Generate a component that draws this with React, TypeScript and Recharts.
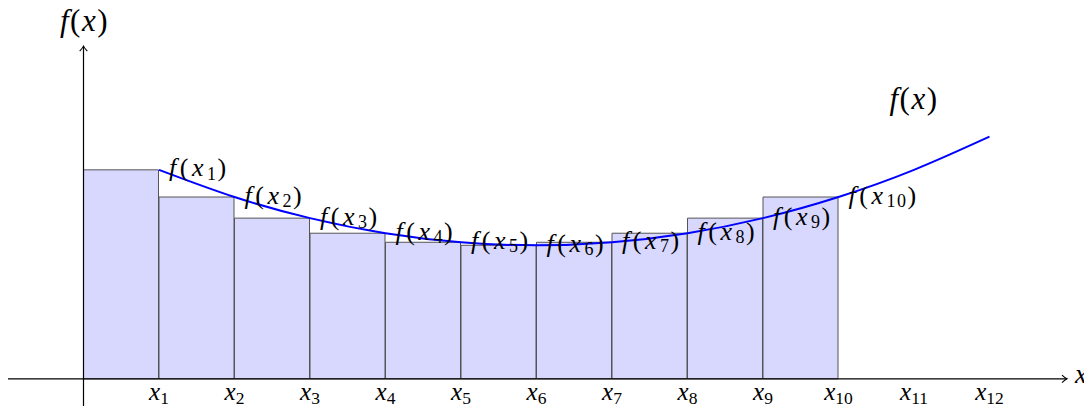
import React from 'react';
import { ComposedChart, Line, Bar, XAxis, YAxis, ReferenceLine, ReferenceDot, LabelList } from 'recharts';

// x positions of the sample points x1..x12 and the curve values
const xPoints = [1, 2, 3, 4, 5, 6, 7, 8, 9, 10, 11, 12];
const fValues = [2.77, 2.41, 2.13, 1.93, 1.81, 1.77, 1.81, 1.93, 2.13, 2.41, 2.77, 3.21];
const tickSubscripts = ['1', '2', '3', '4', '5', '6', '7', '8', '9', '10', '11', '12'];
const pointLabelSubscripts = ['1', '2', '3', '4', '5', '6', '7', '8', '9', '10'];
// rectangles (right-endpoint rule)
const barLeft = [0, 1, 2, 3, 4, 5, 6, 7, 8, 9];
const barRight = [1, 2, 3, 4, 5, 6, 7, 8, 9, 10];
const barHeights = [2.77, 2.41, 2.13, 1.93, 1.81, 1.77, 1.81, 1.93, 2.13, 2.41];
// axis extents and the free curve label
const xAxisRange = [-1, 13];
const yAxisRange = [-0.36, 4.41];
const curveLabelPos = { x: 11, y: 3.68 };

const lineData = xPoints.map((x, i) => ({ x, y: fValues[i], label: pointLabelSubscripts[i] }));
const barData = barLeft.map((l, i) => ({ x: (l + barRight[i]) / 2, h: barHeights[i] }));

const FONT = "'Liberation Serif', 'DejaVu Serif', serif";

const XTick = (props: any) => {
  const { x, y, payload } = props;
  return (
    <text x={x} y={y - 6} textAnchor="middle" fontFamily={FONT} fontSize={25} fill="#000">
      <tspan fontStyle="italic">x</tspan>
      <tspan fontSize={17.5} dy={3.5}>{tickSubscripts[xPoints.indexOf(payload.value)]}</tspan>
    </text>
  );
};

const PointLabel = (props: any) => {
  const { x, y, value } = props;
  if (value === undefined || value === null) return null;
  return (
    <text x={x + 10} y={y + 6.5} fontFamily={FONT} fontSize={26} fill="#000" letterSpacing={3.5}>
      <tspan fontStyle="italic">f</tspan>
      <tspan>(</tspan>
      <tspan fontStyle="italic">x</tspan>
      <tspan fontSize={18} dy={3.5} letterSpacing={1.5}>{value}</tspan>
      <tspan dy={-3.5}>)</tspan>
    </text>
  );
};

const FofX = ({ x, y }: { x: number; y: number }) => (
  <text x={x} y={y} textAnchor="middle" fontFamily={FONT} fontSize={31} fill="#000" letterSpacing={1.5}>
    <tspan fontStyle="italic">f</tspan>
    <tspan>(</tspan>
    <tspan fontStyle="italic">x</tspan>
    <tspan>)</tspan>
  </text>
);

const XAxisLine = (props: any) => {
  const { x1, y1, x2, y2 } = props;
  const tx = x2 + 2;
  const ty = y2;
  return (
    <g>
      <line x1={x1} y1={y1} x2={tx} y2={ty} stroke="#000" strokeWidth={1.2} />
      <path
        d={`M ${tx - 5} ${ty - 3.8} Q ${tx - 1.5} ${ty - 0.6} ${tx} ${ty} Q ${tx - 1.5} ${ty + 0.6} ${tx - 5} ${ty + 3.8}`}
        fill="none"
        stroke="#000"
        strokeWidth={1.1}
      />
      <text x={tx + 8} y={ty + 4} fontFamily={FONT} fontSize={27} fontStyle="italic" fill="#000">x</text>
    </g>
  );
};

const YAxisLine = (props: any) => {
  const { x1, y1, x2, y2 } = props;
  const tx = x2;
  const ty = Math.min(y1, y2);
  const by = Math.max(y1, y2);
  return (
    <g>
      <line x1={x1} y1={by} x2={tx} y2={ty} stroke="#000" strokeWidth={1.2} />
      <path
        d={`M ${tx - 3.8} ${ty + 5} Q ${tx - 0.6} ${ty + 1.5} ${tx} ${ty} Q ${tx + 0.6} ${ty + 1.5} ${tx + 3.8} ${ty + 5}`}
        fill="none"
        stroke="#000"
        strokeWidth={1.1}
      />
      <FofX x={tx + 1} y={ty - 15} />
    </g>
  );
};

export default function App() {
  return (
    <div style={{ width: 1092, height: 406, margin: '-8px 0 0 -8px' }}>
      <ComposedChart
        width={1092}
        height={406}
        data={barData}
        margin={{ top: 28, right: 27, bottom: -30, left: 8 }}
        barCategoryGap={0}
        barGap={0}
      >
        <XAxis
          xAxisId="bars"
          dataKey="x"
          type="number"
          domain={xAxisRange}
          ticks={xPoints}
          allowDataOverflow
          height={30}
          axisLine={false}
          tickLine={false}
          tickSize={0}
          tickMargin={0}
          interval={0}
          tick={XTick}
        />
        <XAxis xAxisId="curve" dataKey="x" type="number" domain={xAxisRange} allowDataOverflow hide />
        <YAxis type="number" domain={[-0.36, 4.65]} allowDataOverflow hide />
        <ReferenceLine
          xAxisId="bars"
          segment={[{ x: xAxisRange[0], y: 0 }, { x: xAxisRange[1], y: 0 }]}
          ifOverflow="visible"
          shape={XAxisLine}
        />
        <Line
          xAxisId="curve"
          data={lineData}
          dataKey="y"
          type="natural"
          stroke="#0000ff"
          strokeWidth={2}
          dot={false}
          isAnimationActive={false}
        >
          <LabelList dataKey="label" content={PointLabel} />
        </Line>
        <Bar
          xAxisId="bars"
          dataKey="h"
          fill="#a8a8ff"
          fillOpacity={0.45}
          stroke="#555"
          strokeWidth={1}
          isAnimationActive={false}
        />
        <ReferenceLine
          xAxisId="bars"
          segment={[{ x: 0, y: yAxisRange[0] }, { x: 0, y: yAxisRange[1] }]}
          ifOverflow="visible"
          shape={YAxisLine}
        />
        <ReferenceDot
          xAxisId="bars"
          x={curveLabelPos.x}
          y={curveLabelPos.y}
          r={0}
          ifOverflow="visible"
          shape={(p: any) => <FofX x={p.cx} y={p.cy + 8} />}
        />
      </ComposedChart>
    </div>
  );
}
